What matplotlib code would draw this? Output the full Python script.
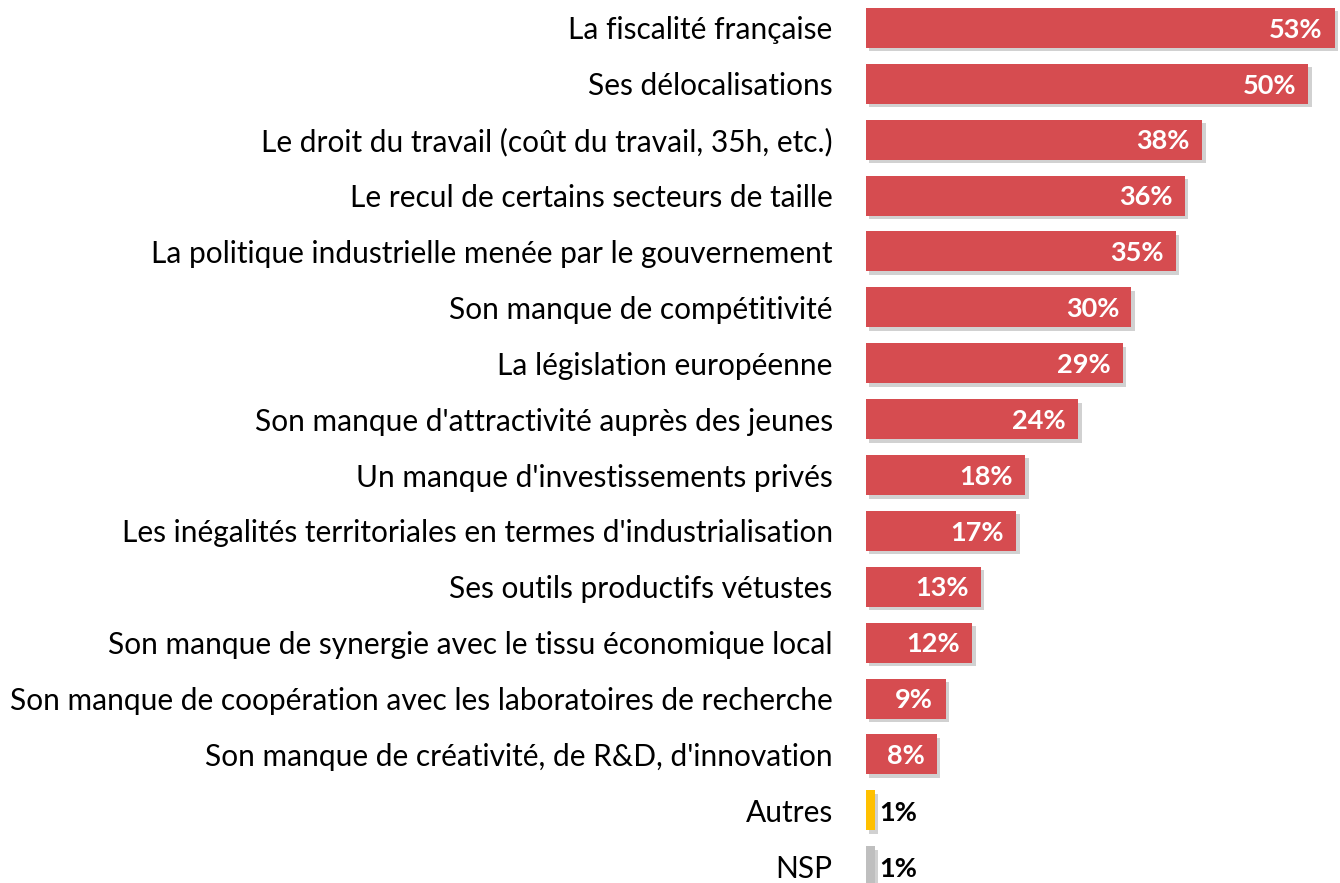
import matplotlib
matplotlib.use("Agg")
import matplotlib.pyplot as plt
import matplotlib.patheffects as pe

categories = [
    "La fiscalité française",
    "Ses délocalisations",
    "Le droit du travail (coût du travail, 35h, etc.)",
    "Le recul de certains secteurs de taille",
    "La politique industrielle menée par le gouvernement",
    "Son manque de compétitivité",
    "La législation européenne",
    "Son manque d'attractivité auprès des jeunes",
    "Un manque d'investissements privés",
    "Les inégalités territoriales en termes d'industrialisation",
    "Ses outils productifs vétustes",
    "Son manque de synergie avec le tissu économique local",
    "Son manque de coopération avec les laboratoires de recherche",
    "Son manque de créativité, de R&D, d'innovation",
    "Autres",
    "NSP",
]
values = [53, 50, 38, 36, 35, 30, 29, 24, 18, 17, 13, 12, 9, 8, 1, 1]

red = "#D64C50"
colors = [red] * 14 + ["#FFC000", "#BFBFBF"]

plt.rcParams["font.family"] = ["Lato", "DejaVu Sans"]

fig = plt.figure(figsize=(13.40, 8.83), dpi=100)
ax = fig.add_axes([866 / 1340, 0, 474 / 1340, 1])

y = list(range(len(values)))
shadow = [pe.SimplePatchShadow(offset=(2.5, -2.5), shadow_rgbFace="black", alpha=0.18), pe.Normal()]
bars = ax.barh(y, values, height=0.716, color=colors, path_effects=shadow)

# white labels inside long bars, black outside the tiny ones
for yi, v in zip(y, values):
    if v > 3:
        ax.text(v - 1.4, yi + 0.03, f"{v}%", ha="right", va="center", color="white",
                fontsize=19.5, fontweight="bold")
    else:
        ax.text(v + 0.5, yi + 0.05, f"{v}%", ha="left", va="center", color="black",
                fontsize=19.5, fontweight="bold")

ax.set_xlim(0, 53.57)
ax.set_ylim(15.30, -0.50)
ax.set_yticks(y)
ax.set_yticklabels(categories, fontsize=21.5)
ax.tick_params(axis="y", length=0, pad=24)
ax.set_xticks([])
for s in ax.spines.values():
    s.set_visible(False)

fig.savefig("out.png", dpi=100)
